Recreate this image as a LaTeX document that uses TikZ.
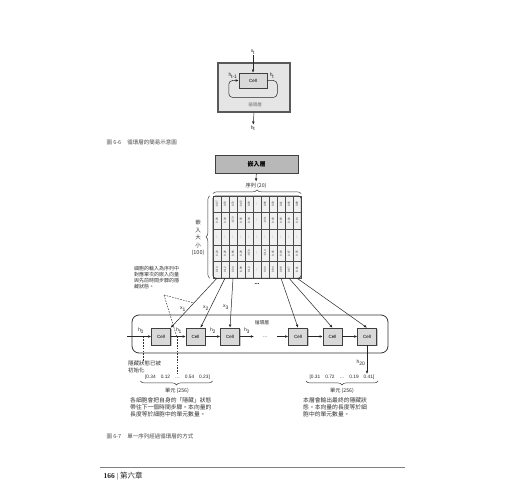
\documentclass[tikz,border=0pt]{standalone}
\usepackage{fontspec}
\setmainfont{Liberation Sans}
\newfontfamily\cjk{Noto Sans CJK TC}
\newfontfamily\oldal{Liberation Serif}
\usetikzlibrary{arrows.meta,positioning,calc,decorations.pathreplacing,shadows}
\newcommand{\fs}[1]{\fontsize{#1}{#1}\selectfont}
\newcommand{\jel}[2]{#1\textsubscript{\kern-0.2pt#2}}
\tikzset{
  cellbox/.style={draw=black!75,fill=black!15,line width=0.5pt,minimum width=19pt,
    minimum height=17pt,inner sep=0pt,font=\fs{4.5},
    drop shadow={shadow xshift=1.2pt,shadow yshift=-1.2pt,fill=black!45}},
  nyil/.style={-{Latex[length=3.2pt,width=2.6pt]},line width=0.5pt,draw=black!85},
  lbl/.style={font=\fs{5},inner sep=0.5pt,text=black!85},
  szoveg/.style={font=\cjk\fontsize{5}{6}\selectfont,align=left,inner sep=0pt,text=black!80},
  bekezd/.style={font=\cjk\fontsize{5.8}{7}\selectfont,align=left,inner sep=0pt,text=black!80},
  szaggat/.style={dash pattern=on 1.6pt off 1.2pt,line width=0.5pt,draw=black!80},
  kapocs/.style={decorate,decoration={brace,amplitude=4pt},line width=0.45pt,draw=black!80},
  mcell/.style={draw=black!70,fill=black!6,line width=0.35pt,minimum width=8pt,
    minimum height=16.4pt,inner sep=0pt,text=black!85},
}

\begin{document}
\begin{tikzpicture}[x=1pt,y=-1pt]
  \path[use as bounding box,fill=white] (0,0) rectangle (520,500);
  % --- 6-6: a retegek egyszeru vazlata ---
  \node[draw=black!65,line width=1.1pt,fill=black!10,minimum width=72pt,minimum height=49pt,
    drop shadow={shadow xshift=1.2pt,shadow yshift=-1.2pt,fill=black!35}] (kulso) at (254,87.5) {};
  \node[cellbox,minimum width=28pt,minimum height=15pt] (c0) at (253,80.5) {Cell};
  \node[lbl] (xt) at (253,52) {\jel{x}{t}};
  \node[lbl,anchor=south] (hprev) at (233,79) {\jel{h}{t-1}};
  \node[lbl,anchor=south] (hcur) at (272,79) {\jel{h}{t}};
  \node[font=\cjk\fs{4.5},text=black!55] (rlabel) at (255,105) {循環層};
  \node[lbl] (hout) at (253,128) {\jel{h}{t}};
  \draw[nyil] (xt) -- (c0);
  \draw[nyil,rounded corners=4pt] (c0.east) -- ++(10,0) -- ++(0,17)
    -| ($(c0.west)+(-10,0)$) -- (c0.west);
  \draw[nyil] (kulso.south) -- (hout);
  \node[font=\cjk\fs{5.5},text=black!70,anchor=west] (cap1) at (103,142)
    {圖 6-6\hspace{6pt}循環層的簡易示意圖};

  % --- 6-7: beagyazas es matrix ---
  \node[draw=black!75,line width=0.7pt,fill=black!28,minimum width=83pt,minimum height=18pt,
    font=\cjk\bfseries\fs{6},
    drop shadow={shadow xshift=1.2pt,shadow yshift=-1.2pt,fill=black!40}] (emb) at (256.5,164) {嵌入層};
  \node[font=\cjk\fs{5.2},inner sep=1pt,text=black!85] (seq) at (256,185.5) {序列 (20)};
  \draw[nyil] (emb) -- (seq);
  \foreach \r/\sor in {
    1/{-0.07,0.53,0.72,-0.45,0.03,…,0.06,0.33,0.21,0.35,0.88},
    2/{0.26,0.34,-0.72,0.35,0.34,…,-0.31,0.03,0.63,0.92,0.14},
    3/{…,…,…,…,…,…,…,…,…,…,…},
    4/{0.24,0.26,0.66,0.28,-0.50,…,-0.14,0.45,0.18,0.67,0.35},
    5/{0.14,0.12,0.34,-0.98,0.12,…,0.34,0.94,0.98,0.67,-0.01}}
    \foreach \v [count=\c] in \sor
      \node[mcell] (m-\r-\c) at ({209+8*\c},{187.8+16.4*\r}) {\rotatebox{90}{\fs{2.8}\v}};
  \draw[rounded corners=3pt,line width=0.6pt,draw=black!80] (m-1-1.north west) rectangle (m-5-11.south east);
  \draw[kapocs] ($(m-1-1.north west)+(0,-2)$) -- ($(m-1-11.north east)+(0,-2)$);
  \draw[kapocs] ($(m-5-1.south west)+(-3,0)$) -- ($(m-1-1.north west)+(-3,0)$);
  \node[font=\cjk\fontsize{5.5}{7.5}\selectfont,align=center,text=black!80] (embsize) at (198,238)
    {嵌\\入\\大\\小\\(100)};
  \node[font=\bfseries\fs{6}] (mdots) at (257,284) {...};
  \node[szoveg,anchor=north west] (jegyzet) at (134,266.5)
    {細胞的輸入為序列中\\對應單次的嵌入向量\\與先前時間步驟的隱\\藏狀態。};

  % --- 6-7: a visszacsatolt reteg ---
  \node[draw=black!80,line width=0.8pt,rounded corners=7pt,minimum width=256pt,
    minimum height=38pt] (rnn) at (260,334) {};
  \node[font=\cjk\fs{4.8},text=black!80] (rnnlbl) at (262,322.5) {循環層};
  \foreach \i/\x in {1/161,2/195.5,3/230,4/298,5/332.5,6/367}
    \node[cellbox] (c\i) at (\x,336.5) {Cell};
  \foreach \c/\i/\hova in {1/1/north east,2/2/60,3/3/north,9/4/north,10/5/north,11/6/north}
    \draw[nyil] (m-5-\c.south) -- (c\i.\hova);
  \node[lbl] (x1) at (183,309) {\jel{x}{1}};
  \node[lbl] (x2) at (206,308) {\jel{x}{2}};
  \node[lbl] (x3) at (226,307.5) {\jel{x}{3}};
  \node[lbl] (h0) at (141,331) {\jel{h}{0}};
  \node[lbl] (h1) at (179,331) {\jel{h}{1}};
  \node[lbl] (h2) at (213,331) {\jel{h}{2}};
  \node[lbl] (h3) at (247,331) {\jel{h}{3}};
  \coordinate (h0be) at (127,336.5);
  \coordinate (h3ki) at (254,336.5);
  \coordinate (h19be) at (277,336.5);
  \node[lbl] (rdots) at (265,337.5) {…};
  \draw[nyil] (h0be) -- (c1);
  \draw[nyil] (c1) -- (c2);
  \draw[nyil] (c2) -- (c3);
  \draw[nyil] (c3) -- (h3ki);
  \draw[nyil] (h19be) -- (c4);
  \draw[nyil] (c4) -- (c5);
  \draw[nyil] (c5) -- (c6);

  % --- rejtett allapotok ---
  \node[szoveg,font=\cjk\fontsize{5.5}{6.5}\selectfont,anchor=north west] (kezdo) at (128,361)
    {隱藏狀態已被\\初始化};
  \node[lbl,font=\fs{4.8}] (vecL) at (177.5,377) {[0.34\hspace{5pt}0.12\hspace{5pt}…\hspace{5pt}0.54\hspace{5pt}0.23]};
  \draw[kapocs] ($(vecL.south east)+(2,1)$) -- ($(vecL.south west)+(-4,1)$);
  \node[font=\cjk\fs{5.2},text=black!85] (unitL) at (177,391) {單元 (256)};
  \node[bekezd,anchor=north west] (bekL) at (130,397.5)
    {各細胞會把自身的「隱藏」狀態\\帶往下一個時間步驟。本向量的\\長度等於細胞中的單元數量。};
  \coordinate (h0pt) at (143,336.5);
  \coordinate (h1pt) at ($(c1.east)!0.4!(c2.west)$);
  \coordinate (jegyzpt) at (164,295);
  \draw[szaggat] (h0pt) -- (h0pt |- kezdo.north);
  \draw[szaggat] (h1pt) -- (h1pt |- vecL.north);
  \draw[szaggat] (jegyzpt) -- ($(m-5-1.south)!0.5!(c1.north east)$);
  \draw[szaggat] (jegyzpt) -- (h1pt);

  \node[lbl] (h20) at (361,363) {\jel{h}{20}};
  \node[lbl,font=\fs{4.8}] (vecR) at (342,377) {[0.31\hspace{5pt}0.72\hspace{5pt}…\hspace{5pt}0.19\hspace{5pt}0.41]};
  \draw[nyil] (c6.south) -- (c6.south |- vecR.north);
  \draw[kapocs] ($(vecR.south east)+(3,1)$) -- ($(vecR.south west)+(-3,1)$);
  \node[font=\cjk\fs{5.2},text=black!85] (unitR) at (342,391) {單元 (256)};
  \node[bekezd,anchor=north west] (bekR) at (303,397.5)
    {本層會輸出最終的隱藏狀\\態。本向量的長度等於細\\胞中的單元數量。};

  \node[font=\cjk\fs{5.5},text=black!70,anchor=west] (cap2) at (103,436)
    {圖 6-7\hspace{6pt}單一序列經過循環層的方式};
  \coordinate (vonalB) at (100,467);
  \coordinate (vonalJ) at (405,467);
  \draw[black!50,line width=0.6pt] (vonalB) -- (vonalJ);
  \node[anchor=west,font=\oldal\bfseries\fs{7.5},text=black!85] (oldal) at (100,476)
    {166 {\mdseries|} {\cjk\mdseries 第六章}};
\end{tikzpicture}
\end{document}
